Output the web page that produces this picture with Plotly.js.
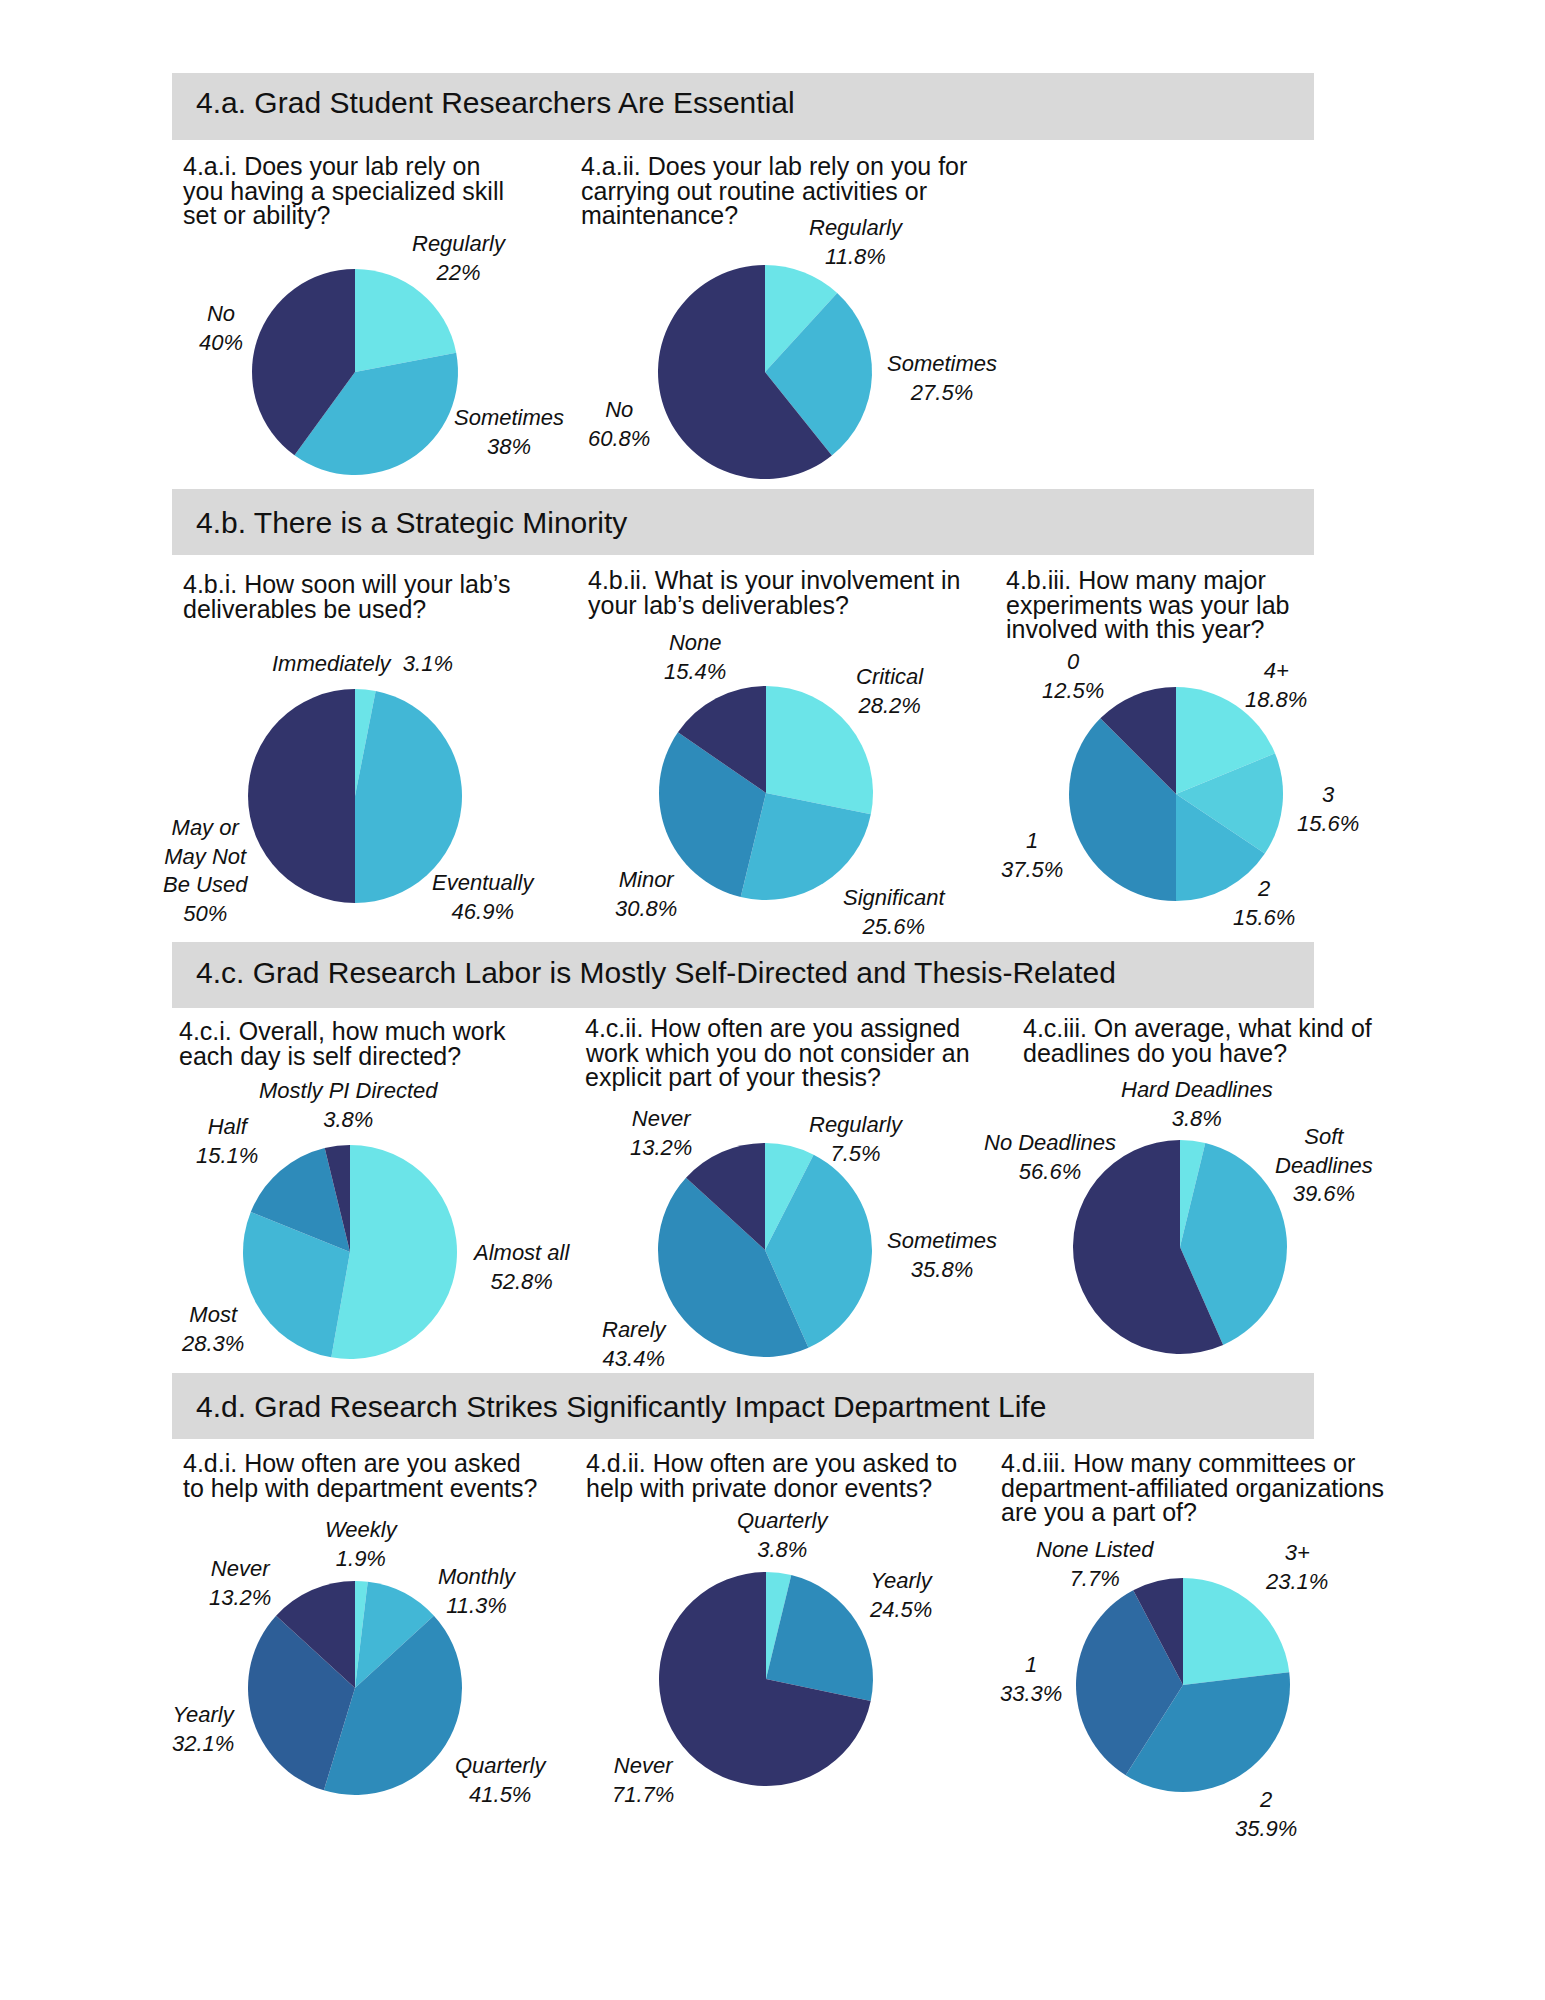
<!DOCTYPE html>
<html>
<head>
<meta charset="utf-8">
<script src="https://cdn.plot.ly/plotly-3.0.1.min.js"></script>
<style>html,body{margin:0;padding:0;background:#fff;}#chart{width:1545px;height:2000px;}</style>
</head>
<body>
<div id="chart"></div>
<script>
// ---------------- DATA ----------------
const sectionTitles = [
  '4.a. Grad Student Researchers Are Essential',
  '4.b. There is a Strategic Minority',
  '4.c. Grad Research Labor is Mostly Self-Directed and Thesis-Related',
  '4.d. Grad Research Strikes Significantly Impact Department Life'
];

const q_a1 = ['4.a.i. Does your lab rely on', 'you having a specialized skill', 'set or ability?'];
const labels_a1 = ['Regularly', 'Sometimes', 'No'];
const values_a1 = [22, 38, 40];

const q_a2 = ['4.a.ii. Does your lab rely on you for', 'carrying out routine activities or', 'maintenance?'];
const labels_a2 = ['Regularly', 'Sometimes', 'No'];
const values_a2 = [11.8, 27.5, 60.8];

const q_b1 = ['4.b.i. How soon will your lab\u2019s', 'deliverables be used?'];
const labels_b1 = ['Immediately', 'Eventually', 'May or May Not Be Used'];
const values_b1 = [3.1, 46.9, 50];

const q_b2 = ['4.b.ii. What is your involvement in', 'your lab\u2019s deliverables?'];
const labels_b2 = ['Critical', 'Significant', 'Minor', 'None'];
const values_b2 = [28.2, 25.6, 30.8, 15.4];

const q_b3 = ['4.b.iii. How many major', 'experiments was your lab', 'involved with this year?'];
const labels_b3 = ['4+', '3', '2', '1', '0'];
const values_b3 = [18.8, 15.6, 15.6, 37.5, 12.5];

const q_c1 = ['4.c.i. Overall, how much work', 'each day is self directed?'];
const labels_c1 = ['Almost all', 'Most', 'Half', 'Mostly PI Directed'];
const values_c1 = [52.8, 28.3, 15.1, 3.8];

const q_c2 = ['4.c.ii. How often are you assigned', 'work which you do not consider an', 'explicit part of your thesis?'];
const labels_c2 = ['Regularly', 'Sometimes', 'Rarely', 'Never'];
const values_c2 = [7.5, 35.8, 43.4, 13.2];

const q_c3 = ['4.c.iii. On average, what kind of', 'deadlines do you have?'];
const labels_c3 = ['Hard Deadlines', 'Soft Deadlines', 'No Deadlines'];
const values_c3 = [3.8, 39.6, 56.6];

const q_d1 = ['4.d.i. How often are you asked', 'to help with department events?'];
const labels_d1 = ['Weekly', 'Monthly', 'Quarterly', 'Yearly', 'Never'];
const values_d1 = [1.9, 11.3, 41.5, 32.1, 13.2];

const q_d2 = ['4.d.ii. How often are you asked to', 'help with private donor events?'];
const labels_d2 = ['Quarterly', 'Yearly', 'Never'];
const values_d2 = [3.8, 24.5, 71.7];

const q_d3 = ['4.d.iii. How many committees or', 'department-affiliated organizations', 'are you a part of?'];
const labels_d3 = ['3+', '2', '1', 'None Listed'];
const values_d3 = [23.1, 35.9, 33.3, 7.7];

// ---------------- STYLE / LAYOUT ----------------
const W = 1545, H = 2000;
const FONT = 'Liberation Sans, Arial, Helvetica, sans-serif';
const C = {cyan:'#6BE4E8', mid:'#42B7D6', mid2:'#55CEDF', teal:'#2E8BBA', blue:'#2E6AA2', blue2:'#2D5E97', navy:'#32346B'};

// section header bars: [top, bottom, text centre y]
const bars = [[73, 140, 102], [489, 555, 522], [942, 1008, 972], [1373, 1439, 1406]];
const barX = [172, 1314];

// pie configs: center, radius, colors, question position, label positions (block centers) + display line breaks
const pies = [
  {q:q_a1, labels:labels_a1, values:values_a1, cx:355, cy:372, r:103, qx:181, qy:166,
   colors:[C.cyan, C.mid, C.navy],
   lp:[[459,258],[509,432],[221,328]]},
  {q:q_a2, labels:labels_a2, values:values_a2, cx:765, cy:372, r:107, qx:579, qy:166,
   colors:[C.cyan, C.mid, C.navy],
   lp:[[856,242],[942,378],[619,424]]},
  {q:q_b1, labels:labels_b1, values:values_b1, cx:355, cy:796, r:107, qx:181, qy:584,
   colors:[C.cyan, C.mid, C.navy],
   lp:[[362,663],[484,897],[205,870]], sep:[' \u00a0', '<br>', '<br>'],
   disp:{'May or May Not Be Used':'May or<br>May Not<br>Be Used'}},
  {q:q_b2, labels:labels_b2, values:values_b2, cx:766, cy:793, r:107, qx:586, qy:580,
   colors:[C.cyan, C.mid, C.teal, C.navy],
   lp:[[890,691],[894,912],[646,894],[695,657]]},
  {q:q_b3, labels:labels_b3, values:values_b3, cx:1176, cy:794, r:107, qx:1004, qy:580,
   colors:[C.cyan, C.mid2, C.mid, C.teal, C.navy],
   lp:[[1276,685],[1328,809],[1264,903],[1032,855],[1073,676]]},
  {q:q_c1, labels:labels_c1, values:values_c1, cx:350, cy:1252, r:107, qx:177, qy:1031,
   colors:[C.cyan, C.mid, C.teal, C.navy],
   lp:[[521,1267],[212,1329],[227,1141],[348,1105]]},
  {q:q_c2, labels:labels_c2, values:values_c2, cx:765, cy:1250, r:107, qx:583, qy:1028,
   colors:[C.cyan, C.mid, C.teal, C.navy],
   lp:[[857,1139],[942,1255],[635,1344],[661,1133]]},
  {q:q_c3, labels:labels_c3, values:values_c3, cx:1180, cy:1247, r:107, qx:1021, qy:1028,
   colors:[C.cyan, C.mid, C.navy],
   lp:[[1197,1104],[1324,1165],[1050,1157]],
   disp:{'Soft Deadlines':'Soft<br>Deadlines'}},
  {q:q_d1, labels:labels_d1, values:values_d1, cx:355, cy:1688, r:107, qx:181, qy:1463,
   colors:[C.cyan, C.mid, C.teal, C.blue2, C.navy],
   lp:[[362,1544],[477,1591],[501,1780],[204,1729],[240,1583]]},
  {q:q_d2, labels:labels_d2, values:values_d2, cx:766, cy:1679, r:107, qx:584, qy:1463,
   colors:[C.cyan, C.teal, C.navy],
   lp:[[783,1535],[902,1595],[643,1780]]},
  {q:q_d3, labels:labels_d3, values:values_d3, cx:1183, cy:1685, r:107, qx:999, qy:1463,
   colors:[C.cyan, C.teal, C.blue, C.navy],
   lp:[[1296,1567],[1266,1814],[1031,1679],[1095,1564]]}
];

const X = v => v / W;
const Y = v => 1 - v / H;

const traces = [];
const annotations = [];
const shapes = [];

bars.forEach((b, i) => {
  shapes.push({type:'rect', xref:'paper', yref:'paper', x0:X(barX[0]), x1:X(barX[1]), y0:Y(b[1]), y1:Y(b[0]),
    fillcolor:'#D9D9D9', line:{width:0}, layer:'below'});
  annotations.push({xref:'paper', yref:'paper', x:X(194), y:Y(b[2]), xanchor:'left', yanchor:'middle',
    text:sectionTitles[i], showarrow:false, font:{family:FONT, size:30, color:'#111'}});
});

pies.forEach(p => {
  traces.push({
    type:'pie', labels:p.labels, values:p.values, sort:false, direction:'clockwise', rotation:0,
    textinfo:'none', hoverinfo:'label+value', showlegend:false,
    marker:{colors:p.colors, line:{width:0}},
    domain:{x:[X(p.cx - p.r), X(p.cx + p.r)], y:[Y(p.cy + p.r), Y(p.cy - p.r)]}
  });
  p.q.forEach((line, k) => {
    annotations.push({xref:'paper', yref:'paper', x:X(p.qx), y:Y(p.qy + k*24.5), xanchor:'left', yanchor:'middle',
      text:line, showarrow:false, font:{family:FONT, size:25, color:'#111'}});
  });
  p.labels.forEach((lab, k) => {
    const name = (p.disp && p.disp[lab]) ? p.disp[lab] : lab;
    const sep = p.sep ? p.sep[k] : '<br>';
    annotations.push({xref:'paper', yref:'paper', x:X(p.lp[k][0]), y:Y(p.lp[k][1]), xanchor:'center', yanchor:'middle',
      text:'<i>' + name + sep + p.values[k] + '%</i>', showarrow:false, align:'center',
      font:{family:FONT, size:22, color:'#111'}});
  });
});

const layout = {
  width:W, height:H, margin:{l:0, r:0, t:0, b:0},
  paper_bgcolor:'#fff', plot_bgcolor:'#fff',
  shapes:shapes, annotations:annotations, showlegend:false
};

Plotly.newPlot('chart', traces, layout, {staticPlot:true, displayModeBar:false});
</script>
</body>
</html>
